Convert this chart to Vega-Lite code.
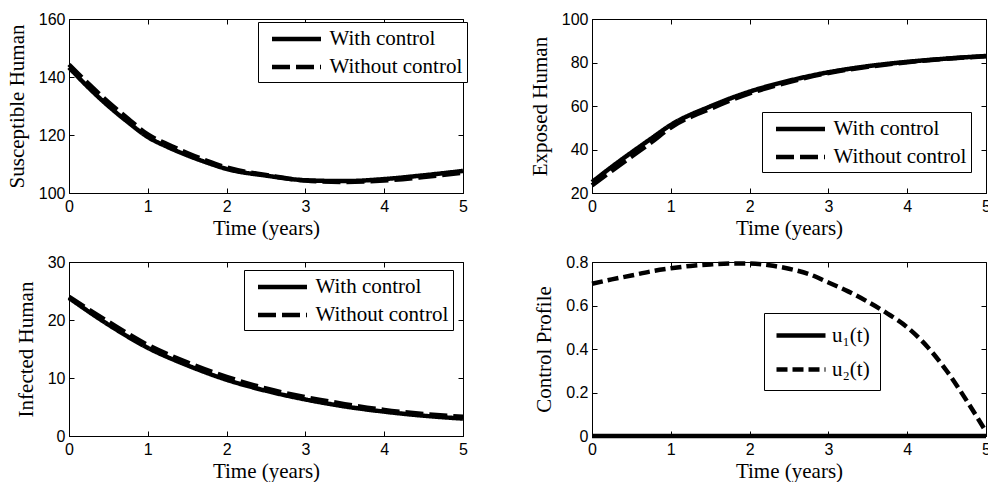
{
  "$schema": "https://vega.github.io/schema/vega-lite/v6.json",
  "background": "white",
  "padding": {"left": 5, "top": 10, "right": 0, "bottom": 0},
  "datasets": {
    "susceptible": [
      {"t": 0, "value": 143.3, "series": "With control"},
      {"t": 0.25, "value": 136.3, "series": "With control"},
      {"t": 0.5, "value": 130.0, "series": "With control"},
      {"t": 0.75, "value": 124.4, "series": "With control"},
      {"t": 1, "value": 119.3, "series": "With control"},
      {"t": 1.25, "value": 115.9, "series": "With control"},
      {"t": 1.5, "value": 113.0, "series": "With control"},
      {"t": 1.75, "value": 110.5, "series": "With control"},
      {"t": 2, "value": 108.3, "series": "With control"},
      {"t": 2.5, "value": 106.0, "series": "With control"},
      {"t": 3, "value": 104.4, "series": "With control"},
      {"t": 3.5, "value": 104.1, "series": "With control"},
      {"t": 4, "value": 104.8, "series": "With control"},
      {"t": 4.5, "value": 106.1, "series": "With control"},
      {"t": 5, "value": 107.6, "series": "With control"},
      {"t": 0, "value": 144.3, "series": "Without control"},
      {"t": 0.25, "value": 137.6, "series": "Without control"},
      {"t": 0.5, "value": 131.3, "series": "Without control"},
      {"t": 0.75, "value": 125.6, "series": "Without control"},
      {"t": 1, "value": 120.2, "series": "Without control"},
      {"t": 1.25, "value": 116.8, "series": "Without control"},
      {"t": 1.5, "value": 113.8, "series": "Without control"},
      {"t": 1.75, "value": 111.1, "series": "Without control"},
      {"t": 2, "value": 108.8, "series": "Without control"},
      {"t": 2.5, "value": 106.2, "series": "Without control"},
      {"t": 3, "value": 104.3, "series": "Without control"},
      {"t": 3.5, "value": 103.8, "series": "Without control"},
      {"t": 4, "value": 104.3, "series": "Without control"},
      {"t": 4.5, "value": 105.5, "series": "Without control"},
      {"t": 5, "value": 107.0, "series": "Without control"}
    ],
    "exposed": [
      {"t": 0, "value": 25.0, "series": "With control"},
      {"t": 0.25, "value": 32.0, "series": "With control"},
      {"t": 0.5, "value": 38.6, "series": "With control"},
      {"t": 0.75, "value": 45.0, "series": "With control"},
      {"t": 1, "value": 51.3, "series": "With control"},
      {"t": 1.5, "value": 59.8, "series": "With control"},
      {"t": 2, "value": 66.6, "series": "With control"},
      {"t": 2.5, "value": 71.6, "series": "With control"},
      {"t": 3, "value": 75.5, "series": "With control"},
      {"t": 3.5, "value": 78.3, "series": "With control"},
      {"t": 4, "value": 80.3, "series": "With control"},
      {"t": 4.5, "value": 81.8, "series": "With control"},
      {"t": 5, "value": 83.0, "series": "With control"},
      {"t": 0, "value": 23.5, "series": "Without control"},
      {"t": 0.25, "value": 30.2, "series": "Without control"},
      {"t": 0.5, "value": 36.7, "series": "Without control"},
      {"t": 0.75, "value": 43.2, "series": "Without control"},
      {"t": 1, "value": 50.1, "series": "Without control"},
      {"t": 1.5, "value": 58.7, "series": "Without control"},
      {"t": 2, "value": 65.8, "series": "Without control"},
      {"t": 2.5, "value": 71.0, "series": "Without control"},
      {"t": 3, "value": 75.2, "series": "Without control"},
      {"t": 3.5, "value": 78.0, "series": "Without control"},
      {"t": 4, "value": 80.1, "series": "Without control"},
      {"t": 4.5, "value": 81.7, "series": "Without control"},
      {"t": 5, "value": 82.9, "series": "Without control"}
    ],
    "infected": [
      {"t": 0, "value": 23.8, "series": "With control"},
      {"t": 0.5, "value": 19.2, "series": "With control"},
      {"t": 1, "value": 15.2, "series": "With control"},
      {"t": 1.5, "value": 12.2, "series": "With control"},
      {"t": 2, "value": 9.7, "series": "With control"},
      {"t": 2.5, "value": 7.8, "series": "With control"},
      {"t": 3, "value": 6.3, "series": "With control"},
      {"t": 3.5, "value": 5.1, "series": "With control"},
      {"t": 4, "value": 4.2, "series": "With control"},
      {"t": 4.5, "value": 3.5, "series": "With control"},
      {"t": 5, "value": 3.0, "series": "With control"},
      {"t": 0, "value": 24.0, "series": "Without control"},
      {"t": 0.5, "value": 19.7, "series": "Without control"},
      {"t": 1, "value": 15.7, "series": "Without control"},
      {"t": 1.5, "value": 12.7, "series": "Without control"},
      {"t": 2, "value": 10.2, "series": "Without control"},
      {"t": 2.5, "value": 8.2, "series": "Without control"},
      {"t": 3, "value": 6.7, "series": "Without control"},
      {"t": 3.5, "value": 5.5, "series": "Without control"},
      {"t": 4, "value": 4.5, "series": "Without control"},
      {"t": 4.5, "value": 3.8, "series": "Without control"},
      {"t": 5, "value": 3.3, "series": "Without control"}
    ],
    "control": [
      {"t": 0, "value": 0, "series": "u₁(t)"},
      {"t": 1, "value": 0, "series": "u₁(t)"},
      {"t": 2, "value": 0, "series": "u₁(t)"},
      {"t": 3, "value": 0, "series": "u₁(t)"},
      {"t": 4, "value": 0, "series": "u₁(t)"},
      {"t": 5, "value": 0, "series": "u₁(t)"},
      {"t": 0, "value": 0.7, "series": "u₂(t)"},
      {"t": 0.25, "value": 0.72, "series": "u₂(t)"},
      {"t": 0.5, "value": 0.738, "series": "u₂(t)"},
      {"t": 0.75, "value": 0.757, "series": "u₂(t)"},
      {"t": 1, "value": 0.771, "series": "u₂(t)"},
      {"t": 1.25, "value": 0.782, "series": "u₂(t)"},
      {"t": 1.5, "value": 0.789, "series": "u₂(t)"},
      {"t": 1.75, "value": 0.793, "series": "u₂(t)"},
      {"t": 2, "value": 0.793, "series": "u₂(t)"},
      {"t": 2.25, "value": 0.785, "series": "u₂(t)"},
      {"t": 2.5, "value": 0.769, "series": "u₂(t)"},
      {"t": 2.75, "value": 0.745, "series": "u₂(t)"},
      {"t": 3, "value": 0.706, "series": "u₂(t)"},
      {"t": 3.25, "value": 0.665, "series": "u₂(t)"},
      {"t": 3.5, "value": 0.617, "series": "u₂(t)"},
      {"t": 3.75, "value": 0.563, "series": "u₂(t)"},
      {"t": 4, "value": 0.5, "series": "u₂(t)"},
      {"t": 4.25, "value": 0.413, "series": "u₂(t)"},
      {"t": 4.5, "value": 0.3, "series": "u₂(t)"},
      {"t": 4.75, "value": 0.165, "series": "u₂(t)"},
      {"t": 5, "value": 0.02, "series": "u₂(t)"}
    ]
  },
  "columns": 2,
  "spacing": {"row": 69, "column": 129},
  "bounds": "flush",
  "resolve": {"scale": {"strokeDash": "independent"}, "legend": {"strokeDash": "independent"}},
  "concat": [
    {
      "width": 394,
      "height": 174,
      "data": {"name": "susceptible"},
      "resolve": {"axis": {"x": "independent", "y": "independent"}},
      "layer": [
        {
          "mark": {"type": "line", "color": "black", "strokeWidth": 4.5, "interpolate": "monotone"},
          "encoding": {
            "x": {"field": "t", "type": "quantitative", "scale": {"domain": [0, 5], "nice": false}, "axis": {"title": "Time (years)", "values": [0, 1, 2, 3, 4, 5], "format": "d"}},
            "y": {"field": "value", "type": "quantitative", "scale": {"domain": [100, 160], "nice": false, "zero": false}, "axis": {"title": "Susceptible Human", "values": [100, 120, 140, 160]}},
            "strokeDash": {"field": "series", "type": "nominal", "scale": {"domain": ["With control", "Without control"], "range": [[1, 0], [18, 6]]}, "legend": {"orient": "none", "legendX": 189, "legendY": 3}}
          }
        },
        {
          "mark": {"type": "point", "opacity": 0},
          "encoding": {
            "x": {"field": "t", "type": "quantitative", "axis": {"orient": "top", "labels": false, "title": null, "values": [0, 1, 2, 3, 4, 5], "domain": false}},
            "y": {"field": "value", "type": "quantitative", "axis": {"orient": "right", "labels": false, "title": null, "values": [100, 120, 140, 160], "domain": false}}
          }
        }
      ]
    },
    {
      "width": 394,
      "height": 174,
      "data": {"name": "exposed"},
      "resolve": {"axis": {"x": "independent", "y": "independent"}},
      "layer": [
        {
          "mark": {"type": "line", "color": "black", "strokeWidth": 4.5, "interpolate": "monotone"},
          "encoding": {
            "x": {"field": "t", "type": "quantitative", "scale": {"domain": [0, 5], "nice": false}, "axis": {"title": "Time (years)", "values": [0, 1, 2, 3, 4, 5], "format": "d"}},
            "y": {"field": "value", "type": "quantitative", "scale": {"domain": [20, 100], "nice": false, "zero": false}, "axis": {"title": "Exposed Human", "values": [20, 40, 60, 80, 100]}},
            "strokeDash": {"field": "series", "type": "nominal", "scale": {"domain": ["With control", "Without control"], "range": [[1, 0], [18, 6]]}, "legend": {"orient": "none", "legendX": 170, "legendY": 93}}
          }
        },
        {
          "mark": {"type": "point", "opacity": 0},
          "encoding": {
            "x": {"field": "t", "type": "quantitative", "axis": {"orient": "top", "labels": false, "title": null, "values": [0, 1, 2, 3, 4, 5], "domain": false}},
            "y": {"field": "value", "type": "quantitative", "axis": {"orient": "right", "labels": false, "title": null, "values": [20, 40, 60, 80, 100], "domain": false}}
          }
        }
      ]
    },
    {
      "width": 394,
      "height": 174,
      "data": {"name": "infected"},
      "resolve": {"axis": {"x": "independent", "y": "independent"}},
      "layer": [
        {
          "mark": {"type": "line", "color": "black", "strokeWidth": 4.5, "interpolate": "monotone"},
          "encoding": {
            "x": {"field": "t", "type": "quantitative", "scale": {"domain": [0, 5], "nice": false}, "axis": {"title": "Time (years)", "values": [0, 1, 2, 3, 4, 5], "format": "d"}},
            "y": {"field": "value", "type": "quantitative", "scale": {"domain": [0, 30], "nice": false}, "axis": {"title": "Infected Human", "values": [0, 10, 20, 30]}},
            "strokeDash": {"field": "series", "type": "nominal", "scale": {"domain": ["With control", "Without control"], "range": [[1, 0], [18, 6]]}, "legend": {"orient": "none", "legendX": 175, "legendY": 8}}
          }
        },
        {
          "mark": {"type": "point", "opacity": 0},
          "encoding": {
            "x": {"field": "t", "type": "quantitative", "axis": {"orient": "top", "labels": false, "title": null, "values": [0, 1, 2, 3, 4, 5], "domain": false}},
            "y": {"field": "value", "type": "quantitative", "axis": {"orient": "right", "labels": false, "title": null, "values": [0, 10, 20, 30], "domain": false}}
          }
        }
      ]
    },
    {
      "width": 394,
      "height": 174,
      "data": {"name": "control"},
      "resolve": {"axis": {"x": "independent", "y": "independent"}},
      "layer": [
        {
          "mark": {"type": "line", "color": "black", "strokeWidth": 4.5, "interpolate": "monotone"},
          "encoding": {
            "x": {"field": "t", "type": "quantitative", "scale": {"domain": [0, 5], "nice": false}, "axis": {"title": "Time (years)", "values": [0, 1, 2, 3, 4, 5], "format": "d"}},
            "y": {"field": "value", "type": "quantitative", "scale": {"domain": [0, 0.8], "nice": false}, "axis": {"title": "Control Profile", "values": [0, 0.2, 0.4, 0.6, 0.8], "format": "~g"}},
            "strokeDash": {"field": "series", "type": "nominal", "scale": {"domain": ["u₁(t)", "u₂(t)"], "range": [[1, 0], [11, 5]]}, "legend": {"orient": "none", "legendX": 172, "legendY": 51, "padding": 10, "rowPadding": 11, "symbolType": "M-1,0H3.9", "labelOffset": 33}}
          }
        },
        {
          "mark": {"type": "point", "opacity": 0},
          "encoding": {
            "x": {"field": "t", "type": "quantitative", "axis": {"orient": "top", "labels": false, "title": null, "values": [0, 1, 2, 3, 4, 5], "domain": false}},
            "y": {"field": "value", "type": "quantitative", "axis": {"orient": "right", "labels": false, "title": null, "values": [0, 0.2, 0.4, 0.6, 0.8], "domain": false}}
          }
        }
      ]
    }
  ],
  "config": {
    "font": "Liberation Sans",
    "view": {"stroke": "black", "strokeWidth": 1},
    "axis": {
      "grid": false,
      "domainColor": "black",
      "domainWidth": 1,
      "tickColor": "black",
      "tickSize": -5,
      "tickWidth": 1,
      "labelFont": "Liberation Sans",
      "labelFontSize": 16,
      "labelColor": "black",
      "labelFlush": false,
      "labelOverlap": false,
      "titleFont": "Liberation Serif",
      "titleFontSize": 21,
      "titleFontWeight": "normal",
      "titleColor": "black"
    },
    "axisX": {"titlePadding": 3, "labelPadding": 10},
    "axisY": {"titlePadding": 11, "labelPadding": 9},
    "legend": {
      "title": null,
      "symbolType": "M-0.3,0H4.6",
      "symbolStrokeColor": "black",
      "symbolFillColor": "transparent",
      "symbolStrokeWidth": 4.5,
      "symbolSize": 400,
      "labelFont": "Liberation Serif",
      "labelFontSize": 21,
      "labelColor": "black",
      "labelLimit": 300,
      "labelOffset": 42,
      "padding": 4.5,
      "rowPadding": 5,
      "strokeColor": "black",
      "fillColor": "white"
    }
  }
}
